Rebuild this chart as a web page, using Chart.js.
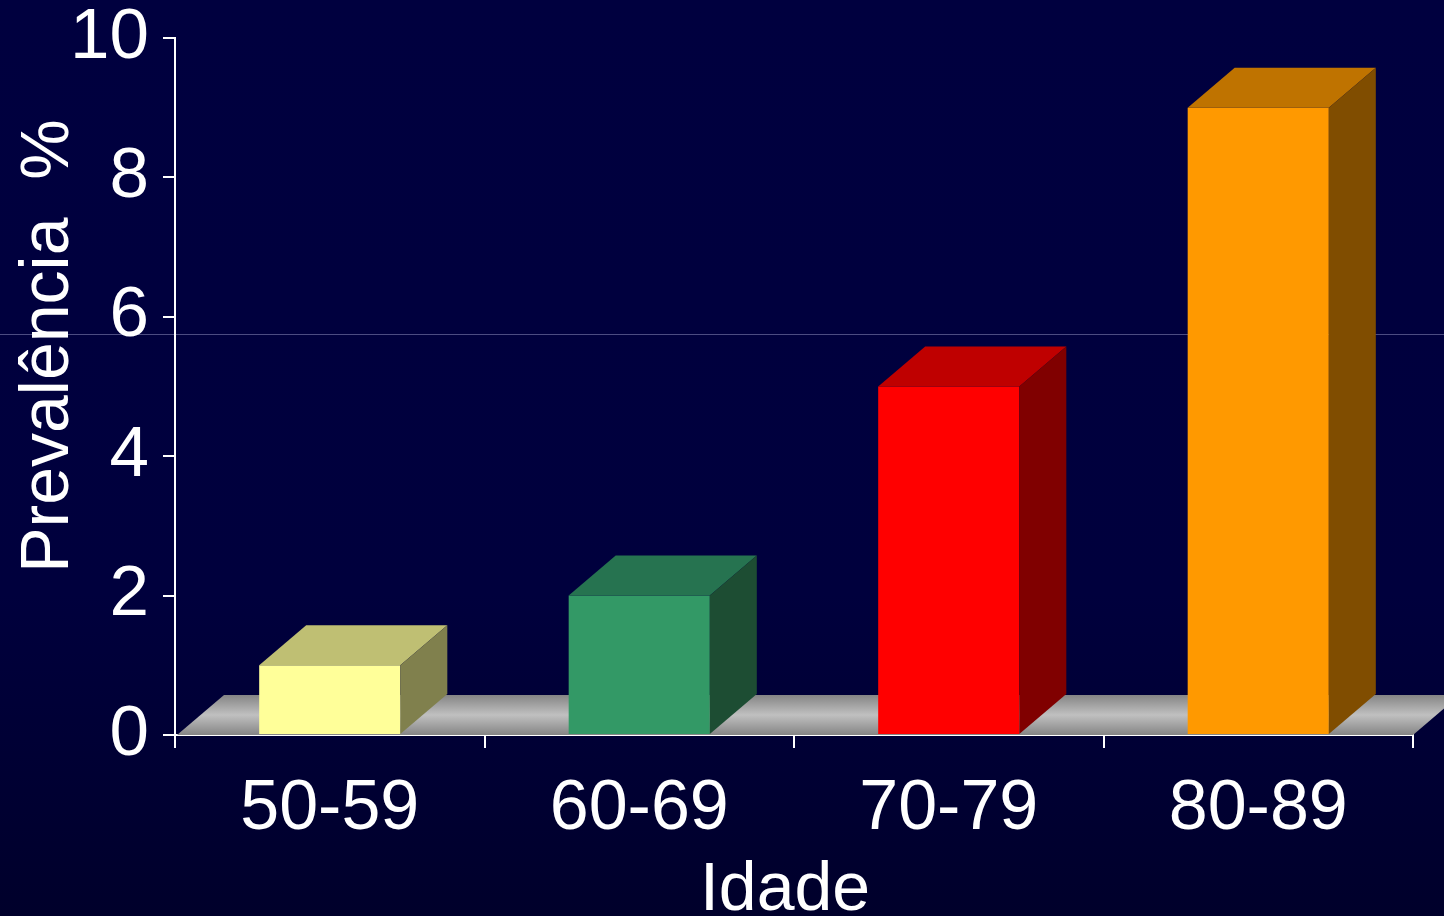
<!DOCTYPE html>
<html>
<head>
<meta charset="utf-8">
<script src="https://cdn.jsdelivr.net/npm/chart.js@4/dist/chart.umd.min.js"></script>
<style>
  html, body { margin: 0; padding: 0; background: #000040; overflow: hidden; }
  canvas { display: block; }
</style>
</head>
<body>
<canvas id="c" width="1444" height="916"></canvas>
<script>
// ---- data ----
const categories = ['50-59', '60-69', '70-79', '80-89'];
const prevalence = [1, 2, 5, 9];
const yTickValues = [0, 2, 4, 6, 8, 10];
const xTitle = 'Idade';
const yTitle = 'Prevalência  %';

// ---- styles ----
const frontColors = ['#FFFF99', '#339966', '#FF0000', '#FF9900'];
const topColors   = ['#BFBF73', '#267350', '#BF0000', '#BF7300'];
const sideColors  = ['#80804D', '#1D4D33', '#800000', '#804D00'];
const DEPTH_X = 47, DEPTH_Y = 40;
const FONT = '"Liberation Sans", Arial, Helvetica, sans-serif';

const bgPlugin = {
  id: 'bg',
  beforeDraw(chart) {
    const ctx = chart.ctx, w = chart.width, h = chart.height;
    ctx.save();
    const g = ctx.createLinearGradient(0, 0, 0, h);
    g.addColorStop(0, '#00003F');
    g.addColorStop(0.65, '#00003D');
    g.addColorStop(1, '#00002B');
    ctx.fillStyle = g;
    ctx.fillRect(0, 0, w, h);
    ctx.fillStyle = '#4C4C82';
    ctx.fillRect(0, 334, w, 1);
    ctx.restore();
  }
};

const threeD = {
  id: 'threeD',
  beforeDatasetsDraw(chart) {
    const ctx = chart.ctx;
    const xs = chart.scales.x, ys = chart.scales.y;
    const y0 = ys.getPixelForValue(0);
    const l = xs.left + 2, r = xs.right;
    ctx.save();
    const g = ctx.createLinearGradient(0, y0 - DEPTH_Y, 0, y0);
    g.addColorStop(0, '#858585');
    g.addColorStop(0.5, '#C0C0C0');
    g.addColorStop(1, '#858585');
    ctx.fillStyle = g;
    ctx.beginPath();
    ctx.moveTo(l, y0);
    ctx.lineTo(l + DEPTH_X, y0 - DEPTH_Y);
    ctx.lineTo(r + DEPTH_X, y0 - DEPTH_Y);
    ctx.lineTo(r, y0);
    ctx.closePath();
    ctx.fill();
    ctx.restore();
  },
  afterDatasetsDraw(chart) {
    const ctx = chart.ctx;
    const meta = chart.getDatasetMeta(0);
    ctx.save();
    meta.data.forEach((bar, i) => {
      const p = bar.getProps(['x', 'y', 'base', 'width'], true);
      const L = p.x - p.width / 2, R = p.x + p.width / 2, T = p.y, B = p.base;
      ctx.fillStyle = topColors[i];
      ctx.beginPath();
      ctx.moveTo(L, T);
      ctx.lineTo(L + DEPTH_X, T - DEPTH_Y);
      ctx.lineTo(R + DEPTH_X, T - DEPTH_Y);
      ctx.lineTo(R, T);
      ctx.closePath();
      ctx.fill();
      ctx.fillStyle = sideColors[i];
      ctx.beginPath();
      ctx.moveTo(R, T);
      ctx.lineTo(R + DEPTH_X, T - DEPTH_Y);
      ctx.lineTo(R + DEPTH_X, B - DEPTH_Y);
      ctx.lineTo(R, B);
      ctx.closePath();
      ctx.fill();
    });
    ctx.restore();
  },
  afterDraw(chart) {
    const ctx = chart.ctx;
    ctx.save();
    ctx.fillStyle = '#FFFFFF';
    ctx.font = '68px ' + FONT;
    ctx.textAlign = 'center';
    ctx.textBaseline = 'alphabetic';
    ctx.fillText(xTitle, 785, 910);
    ctx.translate(68, 346);
    ctx.rotate(-Math.PI / 2);
    ctx.font = '68px ' + FONT;
    ctx.fillText(yTitle, 0, 0);
    ctx.restore();
  }
};

new Chart(document.getElementById('c'), {
  type: 'bar',
  data: {
    labels: categories,
    datasets: [{
      data: prevalence,
      backgroundColor: frontColors,
      borderWidth: 0,
      barPercentage: 0.456,
      categoryPercentage: 1
    }]
  },
  options: {
    responsive: false,
    animation: false,
    devicePixelRatio: 1,
    layout: { padding: { top: 38, right: 31, left: 0, bottom: 0 } },
    plugins: { legend: { display: false }, tooltip: { enabled: false } },
    scales: {
      x: {
        z: 1,
        offset: true,
        grid: { display: true, offset: true, drawOnChartArea: false, tickLength: 13, color: '#FFFFFF', lineWidth: 2 },
        border: { display: true, color: '#FFFFFF', width: 2 },
        ticks: { color: '#FFFFFF', padding: 20, font: { family: FONT, size: 70 } },
        afterFit(s) { s.height = 181; s.paddingLeft = 0; s.paddingRight = 0; }
      },
      y: {
        z: 1,
        min: 0, max: 10,
        afterBuildTicks(s) { s.ticks = yTickValues.map(v => ({ value: v })); },
        grid: { display: true, drawOnChartArea: false, tickLength: 12, color: '#FFFFFF', lineWidth: 2 },
        border: { display: true, color: '#FFFFFF', width: 2 },
        ticks: { color: '#FFFFFF', padding: 14, font: { family: FONT, size: 71 } },
        afterFit(s) { s.width = 175; s.paddingTop = 0; s.paddingBottom = 0; }
      }
    }
  },
  plugins: [bgPlugin, threeD]
});
</script>
</body>
</html>
